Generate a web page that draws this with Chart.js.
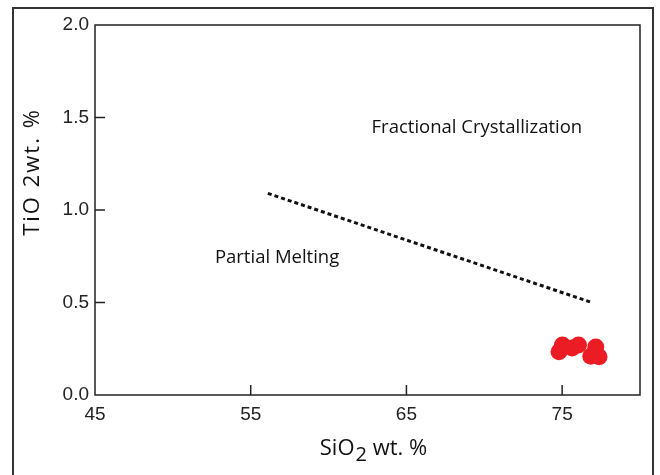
<!DOCTYPE html>
<html lang="en">
<head>
<meta charset="UTF-8">
<title>TiO2 vs SiO2</title>
<script src="https://cdn.jsdelivr.net/npm/chart.js@4.4.0/dist/chart.umd.min.js"></script>
<style>
  html, body { margin: 0; padding: 0; background: #fff; }
  #wrap { width: 660px; height: 475px; }
</style>
</head>
<body>
<div id="wrap"><canvas id="myChart" width="660" height="475"></canvas></div>
<script>
// samples (SiO2 wt.%, TiO2 wt.%)
const sio2 = [74.8, 75.02, 75.64, 76.05, 77.16, 76.84, 77.37];
const tio2 = [0.234, 0.27, 0.254, 0.27, 0.26, 0.21, 0.207];

// dashed boundary line
const lineX = [56.1, 76.9];
const lineY = [1.09, 0.50];

// tick labels
const xTicks = [45, 55, 65, 75];
const yTicks = [0, 0.5, 1.0, 1.5, 2.0];

// field labels
const fieldNames = ['Fractional Crystallization', 'Partial Melting'];
const fieldX = [62.76, 52.7];
const fieldY = [1.443, 0.74];

const frame = {
  id: 'frame',
  beforeDraw(chart) {
    const c = chart.ctx;
    c.save();
    c.strokeStyle = '#333';
    c.lineWidth = 2;
    c.strokeRect(13, 8, 640, 480);
    c.restore();
  },
  afterDatasetsDraw(chart) {
    const c = chart.ctx, a = chart.chartArea;
    const xs = chart.scales.x, ys = chart.scales.y;
    c.save();
    c.strokeStyle = '#222';
    c.lineWidth = 1.5;
    c.strokeRect(a.left, a.top, a.right - a.left, a.bottom - a.top);
    // inward ticks
    c.beginPath();
    xTicks.slice(1).forEach(v => {
      const px = xs.getPixelForValue(v);
      c.moveTo(px, a.bottom); c.lineTo(px, a.bottom - 10);
    });
    yTicks.slice(1, -1).forEach(v => {
      const py = ys.getPixelForValue(v);
      c.moveTo(a.left, py); c.lineTo(a.left + 10, py);
    });
    c.stroke();

    // field labels
    c.fillStyle = '#111';
    c.font = '18.5px "Open Sans"';
    c.textBaseline = 'middle';
    c.textAlign = 'left';
    fieldNames.forEach((t, i) => {
      c.fillText(t, xs.getPixelForValue(fieldX[i]), ys.getPixelForValue(fieldY[i]));
    });

    // x title with subscript
    c.textBaseline = 'alphabetic';
    const p1 = 'SiO', p2 = '2', p3 = ' wt. %';
    c.font = '22px "Open Sans"';
    const w1 = c.measureText(p1).width, w3 = c.measureText(p3).width;
    c.font = '20px "Open Sans"';
    const w2 = c.measureText(p2).width;
    let x0 = 373 - (w1 + w2 + w3) / 2;
    const base = 455;
    c.font = '22px "Open Sans"';
    c.fillText(p1, x0, base);
    c.font = '20px "Open Sans"';
    c.fillText(p2, x0 + w1 + 1, base + 6);
    c.font = '22px "Open Sans"';
    c.fillText(p3, x0 + w1 + w2 + 1, base);

    // y title
    c.translate(33, 172);
    c.rotate(-Math.PI / 2);
    c.textAlign = 'center';
    c.textBaseline = 'middle';
    c.font = '22px "Open Sans"';
    c.letterSpacing = '2px';
    c.fillText('TiO 2wt. %', 0, 0);
    c.restore();
  }
};

new Chart(document.getElementById('myChart'), {
  type: 'scatter',
  data: {
    datasets: [
      {
        type: 'line',
        data: lineX.map((x, i) => ({ x: x, y: lineY[i] })),
        borderColor: '#111',
        borderWidth: 3,
        borderDash: [4, 3],
        pointRadius: 0,
        fill: false
      },
      {
        data: sio2.map((x, i) => ({ x: x, y: tio2[i] })),
        backgroundColor: '#ec1c24',
        borderColor: '#ec1c24',
        borderWidth: 0,
        pointRadius: 8.5,
        pointHoverRadius: 8.5
      }
    ]
  },
  options: {
    responsive: false,
    animation: false,
    layout: { padding: { top: 25, right: 20, left: 0, bottom: 0 } },
    plugins: { legend: { display: false }, tooltip: { enabled: false } },
    scales: {
      x: {
        type: 'linear', min: 45, max: 80,
        grid: { display: false, drawTicks: false },
        border: { display: false },
        afterBuildTicks: s => { s.ticks = xTicks.map(v => ({ value: v })); },
        afterFit: s => { s.height = 80; },
        ticks: { color: '#222', padding: 8, font: { family: 'Liberation Sans', size: 19 } }
      },
      y: {
        type: 'linear', min: 0, max: 2,
        grid: { display: false, drawTicks: false },
        border: { display: false },
        afterBuildTicks: s => { s.ticks = yTicks.map(v => ({ value: v })); },
        afterFit: s => { s.width = 95; },
        ticks: { color: '#222', padding: 6, font: { family: 'Liberation Sans', size: 19 },
                 callback: v => v.toFixed(1) }
      }
    }
  },
  plugins: [frame]
});
</script>
</body>
</html>
